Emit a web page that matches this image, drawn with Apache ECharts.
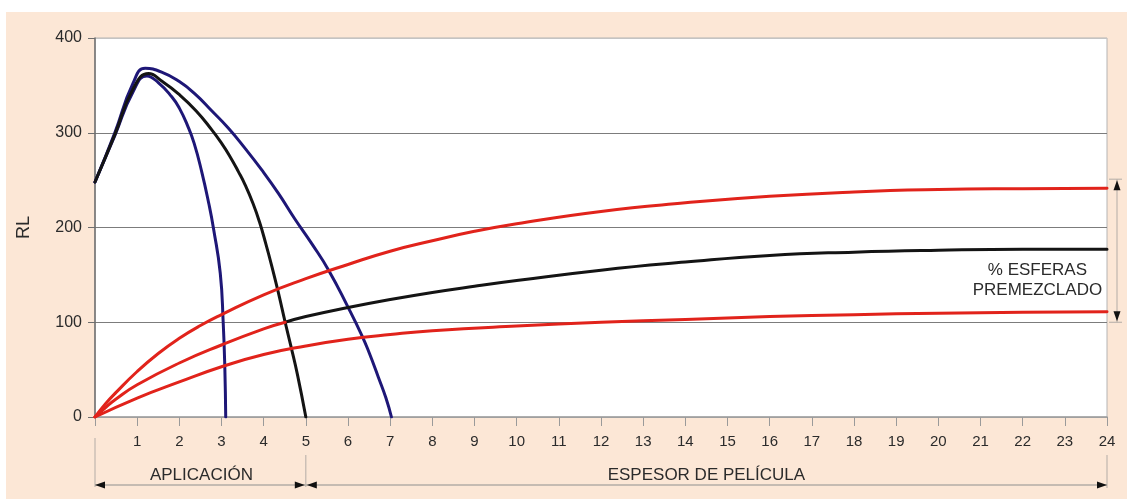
<!DOCTYPE html>
<html>
<head>
<meta charset="utf-8">
<script src="https://cdn.jsdelivr.net/npm/echarts@6/dist/echarts.min.js"></script>
<style>
  html, body { margin: 0; padding: 0; background: #fff; }
  #chart {
    width: 1127px; height: 500px;
    background: linear-gradient(#fce7d6, #fce7d6) 6px 12px / 1121px 487px no-repeat, #fff;
  }
</style>
</head>
<body>
<div id="chart"></div>
<script>
// Film thickness (x) vs. RL (y)
const xTicks = { min: 0, max: 24, step: 1 };
const yTicks = { min: 0, max: 400, step: 100 };

// Application curves (rise to a peak, then drop to zero)
const appInner = [[0,248],[0.47,297],[0.9,343],[1.23,360],[1.5,353],[1.82,338],[2.0,326],[2.2,307],[2.35,289],[2.53,259],[2.7,225],[2.81,199],[2.97,152],[3.04,100],[3.08,50],[3.1,0]];
const appMiddle = [[0,248],[0.47,298],[0.9,346],[1.27,362.5],[1.6,354],[1.98,341],[2.4,323],[2.77,303],[3.0,289],[3.2,275],[3.4,259],[3.56,245],[3.75,225],[3.9,206],[4.05,183],[4.2,158],[4.35,131],[4.51,100],[4.65,74],[4.8,45],[5.0,0]];
const appOuter = [[0,248],[0.47,300],[0.9,352],[1.19,368],[1.58,364],[2.0,354],[2.37,341],[2.75,324],[3.16,305],[3.55,284],[3.95,261],[4.35,236],[4.74,209],[5.14,183],[5.54,155],[6.0,116],[6.33,86],[6.5,68],[6.72,42],[6.9,20],[7.03,0]];

// Premixed-sphere curves
const sphereHigh = [[0,0],[0.25,14],[0.5,26],[1,48],[1.5,67],[2,83],[2.5,96.5],[3,108],[4,129],[5,146],[6,161],[7,175],[8,186],[9,196],[10,204],[12,217],[14,226],[16,233],[18,237.5],[20,240],[22,241],[24,241.5]];
const sphereMidLow = [[0,0],[0.25,10],[0.5,19],[1,34],[2,57],[3,76],[4,93],[4.51,100]];
const sphereMidHigh = [[4.51,100],[5,106],[6,115.5],[7,124],[8,131.5],[9,138],[10,144],[12,155],[14,163.5],[16,170.5],[18,174],[20,176],[22,177],[24,177]];
const sphereLow = [[0,0],[1,20],[2,37],[3,53],[4,66],[5,75],[6,82],[7,87],[8,91],[10,96],[12,100],[14,103],[16,106],[18,108],[20,109.5],[22,110.5],[24,111]];

// Annotation texts and the bracket end-points (data units)
const rangeLabels = ['APLICACIÓN', 'ESPESOR DE PELÍCULA'];
const rangeBounds = [0, 5, 24];
const sideLabel = ['% ESFERAS', 'PREMEZCLADO'];
const sideBracket = [251, 100];

const RED = '#e1231b', NAVY = '#1e1777', BLACK = '#141414';
const FONT = '"Liberation Sans", Arial, sans-serif';

const chart = echarts.init(document.getElementById('chart'), null, { renderer: 'canvas' });

function lineSeries(data, color, z) {
  return {
    type: 'line', data: data, smooth: 0.5, symbol: 'none', z: z,
    lineStyle: { color: color, width: 3, cap: 'round', join: 'round' },
    emphasis: { disabled: true }, silent: true
  };
}

chart.setOption({
  animation: false,
  textStyle: { fontFamily: FONT },
  grid: {
    left: 95, top: 38, right: 20, bottom: 83,
    show: true, backgroundColor: '#ffffff', borderColor: '#b4b4b4', borderWidth: 1
  },
  xAxis: {
    type: 'value', min: xTicks.min, max: xTicks.max, interval: xTicks.step,
    axisLine: { lineStyle: { color: '#a0a0a0', width: 1.5 } },
    axisTick: { length: 9, lineStyle: { color: '#9a9a9a' } },
    axisLabel: {
      margin: 17, fontSize: 15, color: '#2b2b2b', fontFamily: FONT,
      formatter: v => (v === 0 ? '' : String(v))
    },
    splitLine: { show: false }
  },
  yAxis: {
    type: 'value', min: yTicks.min, max: yTicks.max, interval: yTicks.step,
    name: 'RL', nameLocation: 'middle', nameRotate: 90, nameGap: 62,
    nameTextStyle: { fontSize: 18, color: '#2b2b2b', fontFamily: FONT },
    axisLine: { show: true, lineStyle: { color: '#6e6e6e', width: 1.5 } },
    axisTick: { show: true, length: 7, lineStyle: { color: '#6e6e6e' } },
    axisLabel: { margin: 13, fontSize: 16, color: '#2b2b2b', fontFamily: FONT },
    splitLine: { show: true, lineStyle: { color: ['#a0a0a0', '#7c7c7c', '#7c7c7c', '#7c7c7c', '#c4c4c4'], width: 1.2 } }
  },
  series: [
    lineSeries(appInner, NAVY, 3),
    lineSeries(appOuter, NAVY, 3),
    lineSeries(appMiddle, BLACK, 4),
    lineSeries(sphereMidHigh, BLACK, 5),
    lineSeries(sphereLow, RED, 6),
    lineSeries(sphereMidLow, RED, 6),
    lineSeries(sphereHigh, RED, 6)
  ]
});

// Bracket annotations below the axis and at the right side
const px = (x, y) => chart.convertToPixel({ gridIndex: 0 }, [x, y]);
const y0 = px(0, 0)[1];
const GUIDE = '#b3aca6';
const graphics = [];

function vline(x, ya, yb) {
  graphics.push({ type: 'line', silent: true, shape: { x1: x, y1: ya, x2: x, y2: yb }, style: { stroke: GUIDE, lineWidth: 1 } });
}
function hline(xa, xb, y) {
  graphics.push({ type: 'line', silent: true, shape: { x1: xa, y1: y, x2: xb, y2: y }, style: { stroke: GUIDE, lineWidth: 1.5 } });
}
function head(x, y, dx, dy) {
  // triangle with its tip at (x, y) pointing along (dx, dy)
  const L = 10, W = 3.5;
  const bx = x - dx * L, by = y - dy * L;
  graphics.push({
    type: 'polygon', silent: true,
    shape: { points: [[x, y], [bx - dy * W, by + dx * W], [bx + dy * W, by - dx * W]] },
    style: { fill: '#111' }
  });
}
function label(text, x, y, size) {
  graphics.push({
    type: 'text', silent: true, x: x, y: y,
    style: { text: text, fill: '#2b2b2b', font: size + 'px ' + FONT, textAlign: 'center', textVerticalAlign: 'middle' }
  });
}

const bx = rangeBounds.map(v => px(v, 0)[0]);
const arrowY = y0 + 68;
vline(bx[0], y0 + 21, y0 + 70);
vline(bx[1], y0 + 38, y0 + 70);
vline(bx[2], y0 + 38, y0 + 71);
hline(bx[0], bx[1], arrowY);
hline(bx[1], bx[2], arrowY);
head(bx[0], arrowY, -1, 0);
head(bx[1] - 1, arrowY, 1, 0);
head(bx[1] + 1, arrowY, -1, 0);
head(bx[2], arrowY, 1, 0);
label(rangeLabels[0], (bx[0] + bx[1]) / 2 + 1, y0 + 58, 17);
label(rangeLabels[1], (bx[1] + bx[2]) / 2, y0 + 58, 17);

// right-hand vertical bracket
const rx = px(24, 0)[0] + 10;
const ry1 = px(24, sideBracket[0])[1];
const ry2 = px(24, sideBracket[1])[1];
graphics.push({ type: 'line', silent: true, shape: { x1: rx, y1: ry1, x2: rx, y2: ry2 }, style: { stroke: GUIDE, lineWidth: 1 } });
graphics.push({ type: 'line', silent: true, shape: { x1: rx - 8, y1: ry1, x2: rx + 5, y2: ry1 }, style: { stroke: GUIDE, lineWidth: 1 } });
graphics.push({ type: 'line', silent: true, shape: { x1: rx - 8, y1: ry2, x2: rx + 5, y2: ry2 }, style: { stroke: GUIDE, lineWidth: 1 } });
head(rx, ry1 + 1, 0, -1);
head(rx, ry2 - 1, 0, 1);

const tx = px(22.35, 0)[0];
label(sideLabel[0], tx, px(0, 155)[1], 17);
label(sideLabel[1], tx, px(0, 134)[1], 17);

chart.setOption({ graphic: { elements: graphics } });
</script>
</body>
</html>
